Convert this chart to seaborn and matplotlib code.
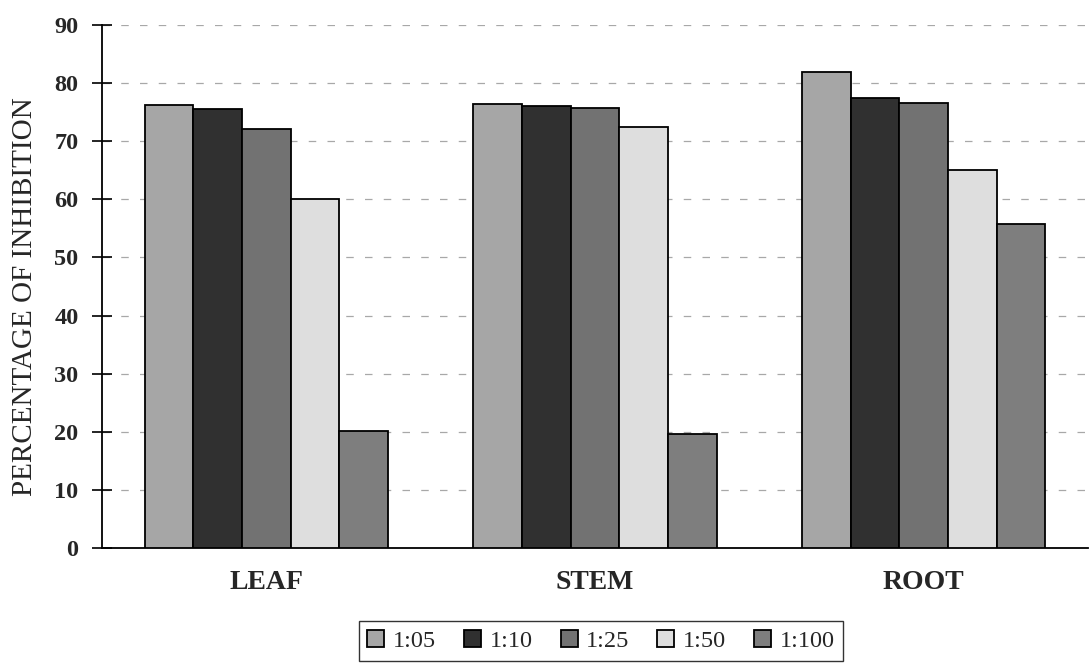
import matplotlib
matplotlib.use("Agg")
import matplotlib.pyplot as plt
import seaborn as sns
import pandas as pd

# ---- data ----
parts = ["LEAF", "STEM", "ROOT"]
ratios = ["1:05", "1:10", "1:25", "1:50", "1:100"]
leaf = [76.2, 75.5, 72.1, 60.1, 20.1]
stem = [76.4, 76.0, 75.7, 72.4, 19.6]
root = [81.9, 77.4, 76.5, 65.0, 55.8]
colors = ["#a6a6a6", "#303030", "#727272", "#dedede", "#7e7e7e"]

rows = []
for p, vals in zip(parts, [leaf, stem, root]):
    for r, v in zip(ratios, vals):
        rows.append({"part": p, "ratio": r, "value": v})
df = pd.DataFrame(rows)

sns.set_theme(style="white")
plt.rcParams["font.family"] = ["Liberation Serif", "DejaVu Serif"]

fig = plt.figure(figsize=(10.89, 6.64), dpi=100)
ax = fig.add_axes([102 / 1089, 1 - 548 / 664, (1088 - 102) / 1089, (548 - 25) / 664])

sns.barplot(data=df, x="part", y="value", hue="ratio", order=parts, hue_order=ratios,
            palette=colors, edgecolor="black", linewidth=1.3, width=0.74,
            saturation=1, ax=ax, zorder=3)

ax.set_ylim(0, 90)
ax.set_xlim(-0.5, 2.5)
ax.set_yticks(range(0, 91, 10))
ax.set_yticklabels([str(v) for v in range(0, 91, 10)], fontsize=17.5, fontweight="bold")
ax.set_xticks([0, 1, 2])
ax.set_xticklabels(parts, fontsize=20, fontweight="bold")
ax.set_xticks([-0.5, 0.5, 1.5, 2.5], minor=True)
ax.tick_params(axis="x", which="major", length=0, pad=16)
ax.tick_params(axis="x", which="minor", length=12, direction="inout", width=1.2, color="black")
ax.tick_params(axis="y", which="major", length=14, direction="inout", width=1.2, color="black", pad=10, left=True)

for s in ["top", "right"]:
    ax.spines[s].set_visible(False)
for s in ["left", "bottom"]:
    ax.spines[s].set_color("black")
    ax.spines[s].set_linewidth(1.3)

for y in range(10, 91, 10):
    ax.axhline(y, color="#a8a8a8", linestyle=(0, (6, 9)), linewidth=0.9, zorder=0)

ax.set_xlabel("")
ax.set_ylabel("PERCENTAGE OF INHIBITION", fontsize=21, labelpad=12)
ax.yaxis.set_label_coords(-0.065, 0.48)

leg = ax.legend(loc="center", bbox_to_anchor=(601 / 1089, 1 - 641 / 664),
                bbox_transform=fig.transFigure, ncol=5, frameon=True, fancybox=False,
                fontsize=17.5, handlelength=0.7, handleheight=0.7, handletextpad=0.35,
                columnspacing=1.15, borderpad=0.35, title=None)
leg.get_frame().set_edgecolor("black")
leg.get_frame().set_linewidth(1.0)
leg.get_frame().set_facecolor("white")

fig.savefig("out.png", dpi=100)
